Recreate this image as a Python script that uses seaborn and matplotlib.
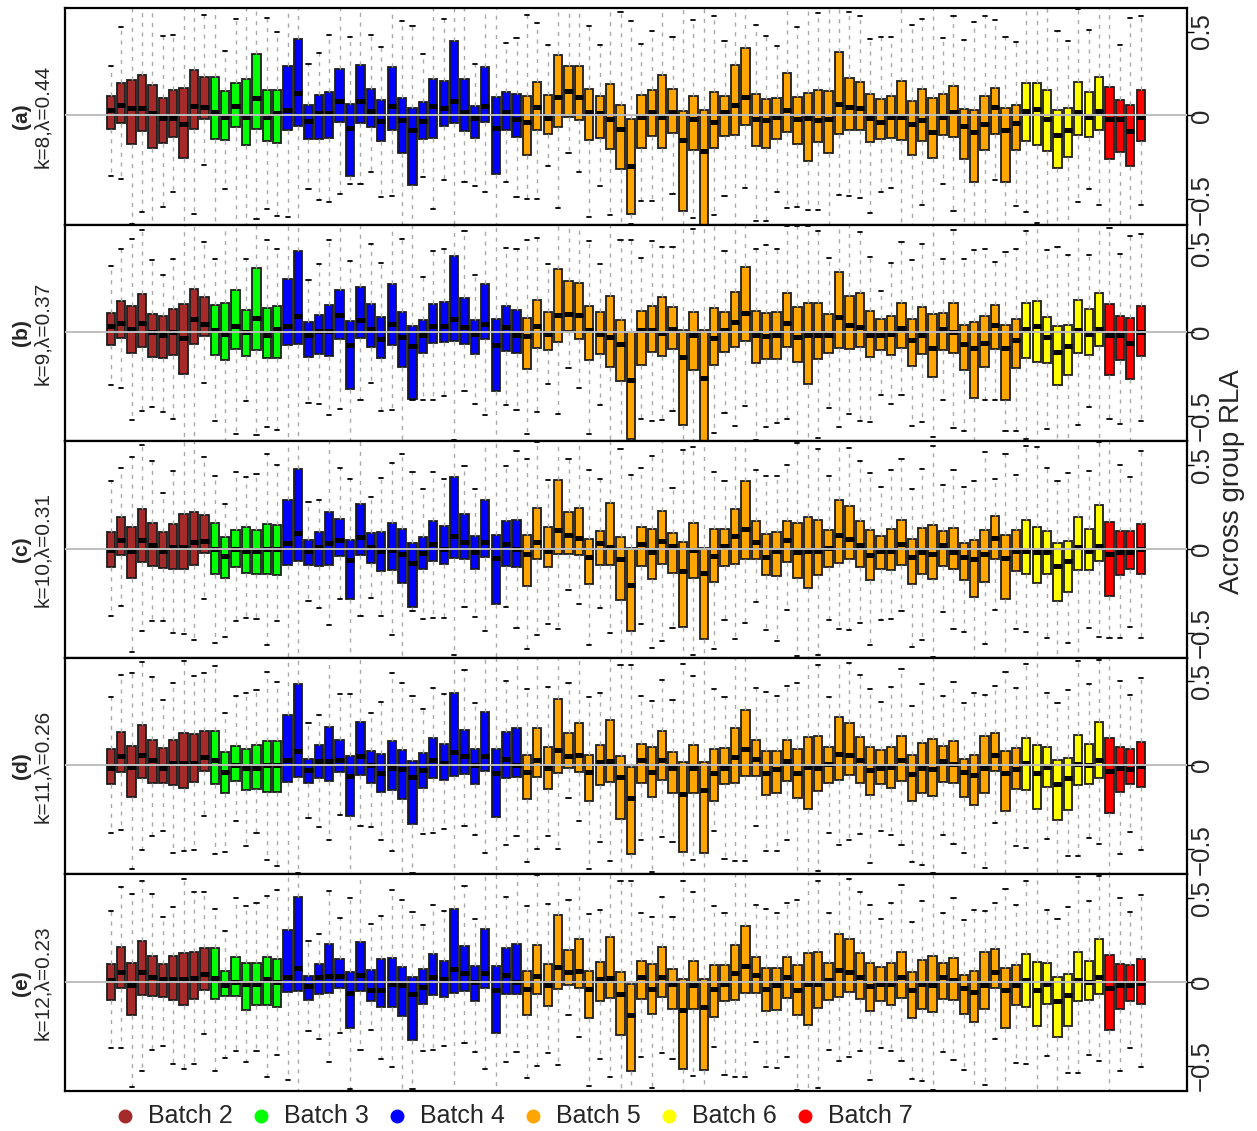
import matplotlib
matplotlib.use("Agg")
import matplotlib.pyplot as plt
import numpy as np
import pandas as pd
import seaborn as sns
from matplotlib.lines import Line2D

sns.set_theme(style="white")
plt.rcParams["font.family"] = ["Liberation Sans", "DejaVu Sans"]

# ---------------- data ----------------
BATCHES = ["Batch 2", "Batch 3", "Batch 4", "Batch 5", "Batch 6", "Batch 7"]
BATCH_SIZES = [10, 7, 23, 48, 8, 4]
BATCH_COLORS = ["#A52A2A", "#00FF00", "#0000FF", "#FFA500", "#FFFF00", "#FF0000"]
PANEL_TAGS = ["(a)", "(b)", "(c)", "(d)", "(e)"]
PANEL_PARAMS = ["k=8,\u03bb=0.44", "k=9,\u03bb=0.37", "k=10,\u03bb=0.31",
                "k=11,\u03bb=0.26", "k=12,\u03bb=0.23"]
YTICKS = [-0.5, 0.0, 0.5]
YTICK_LABELS = ["\u22120.5", "0", "0.5"]
Y_LABEL = "Across group RLA"

# panel (a)
A_Q1 = [-0.078, -0.042, -0.167, -0.092, -0.191, -0.165, -0.131, -0.253, -0.078, -0.024,
        -0.143, -0.147, -0.068, -0.177, -0.082, -0.151, -0.163, -0.084, -0.064, -0.141,
        -0.139, -0.137, -0.038, -0.363, -0.046, -0.068, -0.151, -0.084, -0.223, -0.416,
        -0.141, -0.137, -0.062, -0.042, -0.090, -0.133, -0.040, -0.351, -0.088, -0.129,
        -0.233, -0.088, -0.110, -0.068, -0.008, -0.026, -0.149, -0.135, -0.199, -0.319,
        -0.584, -0.195, -0.122, -0.195, -0.104, -0.568, -0.203, -0.680, -0.195, -0.122,
        -0.114, -0.054, -0.181, -0.193, -0.141, -0.100, -0.167, -0.269, -0.159, -0.223,
        -0.110, -0.086, -0.088, -0.159, -0.143, -0.137, -0.149, -0.233, -0.151, -0.255,
        -0.116, -0.127, -0.261, -0.398, -0.203, -0.108, -0.398, -0.207, -0.151, -0.175,
        -0.211, -0.313, -0.247, -0.116, -0.127, -0.086, -0.261, -0.215, -0.301, -0.153]
A_MED = [0.034, 0.062, 0.044, 0.046, 0.014, -0.014, -0.014, -0.050, 0.058, 0.050,
         0.022, -0.012, 0.054, -0.012, 0.104, -0.012, 0.014, 0.034, 0.135, -0.034,
         0.012, 0.012, 0.084, -0.072, 0.084, 0.024, -0.032, 0.054, -0.026, -0.086,
         -0.032, 0.054, 0.046, 0.084, 0.022, -0.016, 0.054, -0.074, 0.022, -0.020,
         -0.036, 0.050, -0.014, 0.110, 0.145, 0.108, 0.018, 0.014, -0.022, -0.082,
         -0.299, -0.012, 0.018, -0.012, 0.022, -0.145, -0.022, -0.209, -0.038, 0.018,
         0.062, 0.112, -0.022, -0.030, -0.012, 0.034, -0.022, -0.014, -0.026, -0.022,
         0.068, 0.050, 0.042, -0.018, -0.038, -0.012, -0.012, -0.050, -0.026, -0.100,
         -0.012, 0.018, -0.062, -0.100, -0.048, 0.052, -0.088, -0.046, 0.026, 0.038,
         -0.020, -0.116, -0.086, 0.022, -0.012, 0.024, -0.020, -0.020, -0.092, -0.012]
A_Q3 = [0.116, 0.195, 0.209, 0.239, 0.181, 0.106, 0.151, 0.165, 0.273, 0.227,
        0.229, 0.145, 0.193, 0.219, 0.365, 0.149, 0.149, 0.295, 0.454, 0.060,
        0.124, 0.139, 0.275, 0.070, 0.303, 0.155, 0.090, 0.291, 0.106, 0.042,
        0.080, 0.215, 0.205, 0.446, 0.215, 0.058, 0.291, 0.108, 0.137, 0.129,
        0.116, 0.197, 0.120, 0.361, 0.297, 0.297, 0.159, 0.114, 0.189, 0.064,
        -0.022, 0.122, 0.149, 0.239, 0.157, 0.026, 0.116, 0.034, 0.139, 0.118,
        0.301, 0.402, 0.127, 0.096, 0.104, 0.253, 0.108, 0.135, 0.151, 0.145,
        0.378, 0.221, 0.199, 0.127, 0.100, 0.114, 0.203, 0.086, 0.159, 0.104,
        0.129, 0.177, 0.036, 0.032, 0.114, 0.161, 0.042, 0.064, 0.195, 0.191,
        0.151, 0.034, 0.044, 0.201, 0.141, 0.231, 0.167, 0.094, 0.060, 0.153]
A_LO = [-0.361, -0.380, -0.645, -0.572, -0.70, -0.544, -0.454, -0.72, -0.588, -0.293,
        -0.70, -0.438, -0.70, -0.70, -0.616, -0.558, -0.598, -0.606, -0.70, -0.436,
        -0.506, -0.518, -0.470, -0.406, -0.41, -0.339, -0.484, -0.480, -0.70, -0.68,
        -0.365, -0.556, -0.382, -0.72, -0.398, -0.420, -0.456, -0.72, -0.394, -0.488,
        -0.498, -0.498, -0.301, -0.552, -0.223, -0.337, -0.606, -0.420, -0.590, -0.72,
        -0.645, -0.508, -0.508, -0.70, -0.468, -0.72, -0.610, -0.80, -0.594, -0.480,
        -0.70, -0.434, -0.629, -0.629, -0.458, -0.552, -0.546, -0.566, -0.566, -0.70,
        -0.476, -0.480, -0.49, -0.578, -0.456, -0.430, -0.70, -0.70, -0.534, -0.70,
        -0.406, -0.568, -0.70, -0.70, -0.70, -0.384, -0.70, -0.540, -0.576, -0.643,
        -0.70, -0.70, -0.657, -0.518, -0.440, -0.534, -0.70, -0.70, -0.70, -0.532]
A_HI = [0.297, 0.526, 0.70, 0.72, 0.70, 0.474, 0.478, 0.70, 0.70, 0.596,
        0.70, 0.384, 0.574, 0.70, 0.70, 0.580, 0.496, 0.70, 0.75, 0.307,
        0.373, 0.480, 0.70, 0.466, 0.72, 0.480, 0.408, 0.70, 0.564, 0.534,
        0.367, 0.70, 0.574, 0.72, 0.70, 0.307, 0.70, 0.72, 0.432, 0.462,
        0.596, 0.552, 0.418, 0.72, 0.70, 0.70, 0.530, 0.418, 0.70, 0.614,
        0.564, 0.426, 0.502, 0.70, 0.466, 0.72, 0.568, 0.72, 0.590, 0.442,
        0.70, 0.72, 0.538, 0.472, 0.412, 0.70, 0.528, 0.70, 0.610, 0.70,
        0.72, 0.616, 0.590, 0.454, 0.470, 0.470, 0.70, 0.536, 0.574, 0.70,
        0.464, 0.594, 0.452, 0.556, 0.590, 0.566, 0.466, 0.436, 0.70, 0.70,
        0.70, 0.504, 0.444, 0.637, 0.508, 0.70, 0.70, 0.420, 0.582, 0.594]

# panel (b)
B_Q1 = [-0.076, -0.038, -0.122, -0.086, -0.147, -0.153, -0.135, -0.251, -0.070, -0.022,
        -0.135, -0.167, -0.098, -0.143, -0.108, -0.155, -0.155, -0.080, -0.072, -0.147,
        -0.131, -0.143, -0.044, -0.341, -0.036, -0.090, -0.153, -0.078, -0.211, -0.398,
        -0.127, -0.066, -0.062, -0.056, -0.072, -0.133, -0.040, -0.353, -0.112, -0.122,
        -0.221, -0.092, -0.104, -0.060, 0.004, -0.040, -0.165, -0.129, -0.209, -0.293,
        -0.639, -0.197, -0.120, -0.143, -0.100, -0.554, -0.223, -0.660, -0.195, -0.120,
        -0.090, -0.052, -0.185, -0.161, -0.159, -0.086, -0.181, -0.307, -0.159, -0.124,
        -0.092, -0.098, -0.086, -0.149, -0.106, -0.135, -0.094, -0.201, -0.129, -0.267,
        -0.104, -0.127, -0.225, -0.390, -0.211, -0.100, -0.402, -0.213, -0.153, -0.177,
        -0.183, -0.313, -0.253, -0.124, -0.135, -0.084, -0.255, -0.167, -0.279, -0.141]
B_MED = [0.038, 0.054, 0.020, 0.054, -0.002, -0.018, -0.002, -0.038, 0.076, 0.048,
         0.014, -0.014, 0.034, 0.002, 0.086, -0.016, 0.020, 0.038, 0.094, -0.020,
         0.004, 0.004, 0.104, -0.078, 0.070, 0.020, -0.040, 0.050, -0.030, -0.084,
         -0.020, 0.038, 0.038, 0.078, 0.030, -0.014, 0.048, -0.080, 0.030, -0.018,
         -0.022, 0.038, -0.014, 0.104, 0.108, 0.104, 0.010, -0.010, -0.032, -0.072,
         -0.283, 0.010, 0.010, -0.006, 0.018, -0.147, -0.018, -0.275, -0.036, 0.014,
         0.058, 0.114, -0.016, -0.022, -0.016, 0.054, -0.030, -0.016, -0.016, -0.016,
         0.090, 0.044, 0.030, -0.018, -0.016, -0.010, 0.024, -0.046, -0.016, -0.096,
         0.018, -0.002, -0.072, -0.092, -0.064, 0.044, -0.096, -0.048, 0.018, 0.038,
         -0.032, -0.116, -0.084, 0.014, -0.010, 0.018, -0.020, -0.020, -0.066, 0.000]
B_Q3 = [0.116, 0.187, 0.153, 0.229, 0.106, 0.098, 0.135, 0.169, 0.259, 0.207,
        0.163, 0.175, 0.249, 0.133, 0.380, 0.143, 0.157, 0.317, 0.482, 0.058,
        0.100, 0.163, 0.253, 0.068, 0.271, 0.167, 0.092, 0.289, 0.118, 0.038,
        0.070, 0.167, 0.177, 0.454, 0.203, 0.070, 0.289, 0.078, 0.155, 0.129,
        0.086, 0.193, 0.120, 0.373, 0.307, 0.293, 0.155, 0.120, 0.217, 0.070,
        0.000, 0.127, 0.153, 0.209, 0.151, 0.012, 0.120, 0.012, 0.145, 0.122,
        0.239, 0.390, 0.127, 0.112, 0.120, 0.231, 0.151, 0.175, 0.173, 0.108,
        0.359, 0.213, 0.235, 0.127, 0.080, 0.098, 0.171, 0.076, 0.151, 0.108,
        0.114, 0.173, 0.040, 0.058, 0.094, 0.163, 0.040, 0.078, 0.175, 0.183,
        0.090, 0.038, 0.042, 0.191, 0.139, 0.231, 0.165, 0.096, 0.086, 0.157]
B_LO = [-0.313, -0.335, -0.522, -0.468, -0.446, -0.474, -0.518, -0.72, -0.67, -0.301,
        -0.530, -0.70, -0.610, -0.410, -0.616, -0.568, -0.584, -0.72, -0.72, -0.420,
        -0.426, -0.494, -0.458, -0.72, -0.404, -0.303, -0.470, -0.462, -0.72, -0.404,
        -0.402, -0.402, -0.378, -0.643, -0.353, -0.428, -0.496, -0.68, -0.436, -0.464,
        -0.610, -0.478, -0.307, -0.488, -0.213, -0.331, -0.606, -0.434, -0.72, -0.72,
        -0.75, -0.518, -0.528, -0.526, -0.470, -0.72, -0.72, -0.80, -0.604, -0.482,
        -0.562, -0.438, -0.643, -0.568, -0.542, -0.520, -0.72, -0.72, -0.633, -0.452,
        -0.564, -0.488, -0.530, -0.536, -0.376, -0.426, -0.373, -0.560, -0.538, -0.627,
        -0.404, -0.572, -0.588, -0.72, -0.404, -0.404, -0.588, -0.588, -0.635, -0.70,
        -0.578, -0.72, -0.72, -0.552, -0.444, -0.72, -0.518, -0.548, -0.72, -0.528]
B_HI = [0.394, 0.492, 0.554, 0.606, 0.430, 0.337, 0.434, 0.72, 0.72, 0.538,
        0.438, 0.637, 0.70, 0.438, 0.72, 0.550, 0.494, 0.72, 0.75, 0.311,
        0.406, 0.548, 0.72, 0.424, 0.72, 0.524, 0.412, 0.72, 0.554, 0.635,
        0.327, 0.482, 0.492, 0.72, 0.604, 0.339, 0.72, 0.72, 0.502, 0.496,
        0.548, 0.562, 0.406, 0.72, 0.72, 0.72, 0.542, 0.406, 0.72, 0.546,
        0.55, 0.440, 0.542, 0.504, 0.504, 0.70, 0.616, 0.72, 0.70, 0.482,
        0.70, 0.72, 0.494, 0.518, 0.496, 0.629, 0.629, 0.633, 0.602, 0.440,
        0.72, 0.649, 0.596, 0.446, 0.247, 0.410, 0.534, 0.430, 0.526, 0.65,
        0.436, 0.608, 0.434, 0.488, 0.494, 0.418, 0.476, 0.494, 0.602, 0.70,
        0.490, 0.506, 0.456, 0.72, 0.456, 0.72, 0.618, 0.462, 0.572, 0.584]

# panel (c)
C_Q1 = [-0.112, -0.040, -0.173, -0.082, -0.106, -0.116, -0.120, -0.122, -0.098, -0.024,
        -0.149, -0.177, -0.112, -0.143, -0.149, -0.149, -0.155, -0.096, -0.072, -0.100,
        -0.104, -0.096, -0.046, -0.301, -0.036, -0.088, -0.133, -0.129, -0.205, -0.345,
        -0.120, -0.074, -0.090, -0.056, -0.064, -0.120, -0.048, -0.327, -0.104, -0.112,
        -0.221, -0.062, -0.108, -0.034, -0.032, -0.038, -0.213, -0.100, -0.098, -0.303,
        -0.490, -0.102, -0.179, -0.094, -0.145, -0.468, -0.177, -0.540, -0.197, -0.106,
        -0.092, -0.060, -0.060, -0.159, -0.165, -0.082, -0.175, -0.237, -0.155, -0.108,
        -0.084, -0.060, -0.108, -0.185, -0.124, -0.127, -0.098, -0.211, -0.153, -0.183,
        -0.106, -0.124, -0.187, -0.289, -0.199, -0.060, -0.297, -0.133, -0.153, -0.207,
        -0.149, -0.309, -0.261, -0.127, -0.127, -0.076, -0.279, -0.157, -0.124, -0.149]
C_MED = [-0.008, 0.052, -0.012, 0.052, 0.024, -0.012, 0.012, 0.012, 0.040, 0.048,
         0.000, -0.044, 0.000, -0.014, -0.014, 0.000, 0.000, 0.032, 0.092, -0.014,
         0.012, 0.032, 0.052, -0.068, 0.072, 0.012, -0.014, -0.008, -0.032, -0.084,
         -0.024, 0.028, 0.000, 0.076, 0.038, -0.018, 0.042, -0.058, 0.030, 0.000,
         -0.032, 0.038, -0.016, 0.112, 0.082, 0.066, -0.050, 0.034, 0.012, -0.064,
         -0.215, 0.028, -0.018, 0.044, 0.016, -0.135, -0.008, -0.145, -0.046, 0.016,
         0.074, 0.116, 0.038, -0.048, -0.012, 0.052, -0.018, -0.012, -0.012, 0.002,
         0.084, 0.056, 0.022, -0.038, -0.014, -0.014, 0.026, -0.048, -0.018, -0.032,
         0.022, -0.018, -0.052, -0.062, -0.030, 0.064, -0.056, -0.014, -0.012, -0.018,
         -0.018, -0.102, -0.074, 0.012, -0.014, 0.018, -0.032, -0.018, -0.018, 0.000]
C_Q3 = [0.098, 0.187, 0.127, 0.235, 0.155, 0.100, 0.147, 0.209, 0.219, 0.203,
        0.155, 0.068, 0.114, 0.127, 0.110, 0.147, 0.141, 0.291, 0.476, 0.052,
        0.102, 0.219, 0.175, 0.052, 0.265, 0.094, 0.100, 0.155, 0.118, 0.036,
        0.068, 0.165, 0.137, 0.428, 0.205, 0.074, 0.291, 0.082, 0.163, 0.171,
        0.080, 0.245, 0.127, 0.406, 0.217, 0.241, 0.060, 0.108, 0.273, 0.072,
        0.002, 0.131, 0.116, 0.227, 0.092, 0.040, 0.151, 0.004, 0.118, 0.120,
        0.239, 0.402, 0.165, 0.090, 0.100, 0.167, 0.151, 0.191, 0.173, 0.114,
        0.287, 0.253, 0.167, 0.110, 0.076, 0.116, 0.169, 0.056, 0.122, 0.143,
        0.106, 0.124, 0.036, 0.050, 0.114, 0.197, 0.080, 0.110, 0.171, 0.129,
        0.108, 0.036, 0.044, 0.191, 0.118, 0.259, 0.161, 0.106, 0.104, 0.145]
C_LO = [-0.404, -0.339, -0.618, -0.490, -0.432, -0.432, -0.502, -0.506, -0.544, -0.299,
        -0.560, -0.526, -0.430, -0.410, -0.416, -0.576, -0.432, -0.72, -0.72, -0.311,
        -0.353, -0.452, -0.301, -0.72, -0.402, -0.293, -0.402, -0.512, -0.72, -0.369,
        -0.420, -0.414, -0.414, -0.635, -0.345, -0.406, -0.492, -0.72, -0.347, -0.470,
        -0.600, -0.516, -0.448, -0.476, -0.247, -0.327, -0.572, -0.355, -0.502, -0.72,
        -0.70, -0.446, -0.592, -0.552, -0.470, -0.72, -0.635, -0.75, -0.598, -0.426,
        -0.536, -0.444, -0.317, -0.484, -0.550, -0.367, -0.640, -0.72, -0.631, -0.426,
        -0.480, -0.484, -0.444, -0.574, -0.424, -0.416, -0.369, -0.586, -0.542, -0.645,
        -0.378, -0.478, -0.496, -0.70, -0.570, -0.367, -0.72, -0.476, -0.494, -0.70,
        -0.534, -0.72, -0.562, -0.70, -0.470, -0.524, -0.530, -0.530, -0.464, -0.532]
C_HI = [0.402, 0.482, 0.544, 0.616, 0.522, 0.333, 0.460, 0.70, 0.639, 0.546,
        0.434, 0.267, 0.456, 0.428, 0.442, 0.562, 0.496, 0.72, 0.75, 0.275,
        0.287, 0.70, 0.478, 0.416, 0.70, 0.309, 0.418, 0.508, 0.564, 0.454,
        0.353, 0.456, 0.416, 0.72, 0.492, 0.357, 0.72, 0.65, 0.492, 0.580,
        0.534, 0.635, 0.408, 0.72, 0.534, 0.70, 0.466, 0.414, 0.72, 0.594,
        0.440, 0.478, 0.552, 0.639, 0.363, 0.590, 0.604, 0.72, 0.456, 0.402,
        0.70, 0.72, 0.468, 0.434, 0.430, 0.496, 0.631, 0.70, 0.594, 0.434,
        0.70, 0.602, 0.520, 0.450, 0.365, 0.468, 0.534, 0.353, 0.472, 0.610,
        0.378, 0.470, 0.369, 0.402, 0.574, 0.416, 0.562, 0.438, 0.610, 0.606,
        0.482, 0.400, 0.448, 0.70, 0.464, 0.635, 0.70, 0.498, 0.426, 0.580]

# panel (d)
D_Q1 = [-0.112, -0.040, -0.187, -0.078, -0.104, -0.106, -0.120, -0.133, -0.100, -0.032,
        -0.114, -0.165, -0.094, -0.147, -0.139, -0.157, -0.157, -0.102, -0.072, -0.108,
        -0.076, -0.092, -0.040, -0.301, -0.058, -0.104, -0.161, -0.147, -0.203, -0.347,
        -0.133, -0.076, -0.090, -0.064, -0.054, -0.114, -0.036, -0.307, -0.074, -0.070,
        -0.199, -0.070, -0.141, -0.044, -0.018, -0.038, -0.213, -0.116, -0.098, -0.319,
        -0.530, -0.104, -0.189, -0.088, -0.163, -0.518, -0.163, -0.524, -0.211, -0.114,
        -0.106, -0.066, -0.066, -0.175, -0.165, -0.096, -0.197, -0.259, -0.153, -0.108,
        -0.088, -0.058, -0.104, -0.175, -0.114, -0.137, -0.096, -0.213, -0.163, -0.181,
        -0.102, -0.108, -0.189, -0.237, -0.163, -0.034, -0.275, -0.139, -0.147, -0.263,
        -0.129, -0.327, -0.265, -0.116, -0.110, -0.074, -0.285, -0.159, -0.114, -0.129]
D_MED = [-0.014, 0.054, -0.010, 0.064, 0.030, -0.014, 0.014, 0.014, 0.014, 0.048,
         0.030, -0.042, 0.000, -0.016, -0.014, 0.000, 0.000, 0.030, 0.086, -0.026,
         0.026, 0.026, 0.030, -0.064, 0.054, 0.000, -0.046, -0.014, -0.020, -0.072,
         -0.028, 0.030, 0.016, 0.078, 0.054, 0.000, 0.054, -0.046, 0.038, 0.000,
         -0.040, 0.034, -0.018, 0.090, 0.056, 0.064, -0.042, 0.018, 0.024, -0.072,
         -0.197, 0.030, -0.040, 0.030, -0.014, -0.169, -0.018, -0.147, -0.044, -0.014,
         0.050, 0.096, 0.040, -0.044, -0.020, 0.026, -0.048, -0.010, -0.014, 0.010,
         0.070, 0.060, 0.030, -0.026, -0.014, -0.010, 0.030, -0.050, -0.014, -0.020,
         0.026, 0.010, -0.038, -0.058, -0.016, 0.060, -0.046, -0.020, 0.014, -0.046,
         -0.010, -0.114, -0.078, 0.010, 0.000, 0.030, -0.034, -0.016, -0.020, -0.004]
D_Q3 = [0.096, 0.201, 0.114, 0.237, 0.151, 0.102, 0.149, 0.193, 0.185, 0.203,
        0.207, 0.076, 0.116, 0.098, 0.120, 0.147, 0.147, 0.299, 0.482, 0.040,
        0.120, 0.227, 0.151, 0.058, 0.257, 0.084, 0.070, 0.145, 0.088, 0.028,
        0.074, 0.163, 0.127, 0.432, 0.211, 0.094, 0.315, 0.094, 0.199, 0.223,
        0.062, 0.219, 0.106, 0.396, 0.191, 0.253, 0.064, 0.120, 0.269, 0.058,
        -0.010, 0.127, 0.108, 0.207, 0.076, 0.020, 0.122, 0.020, 0.098, 0.102,
        0.221, 0.331, 0.149, 0.084, 0.082, 0.149, 0.098, 0.171, 0.175, 0.110,
        0.287, 0.253, 0.171, 0.110, 0.088, 0.110, 0.175, 0.060, 0.131, 0.155,
        0.112, 0.145, 0.040, 0.064, 0.176, 0.193, 0.082, 0.102, 0.165, 0.120,
        0.110, 0.030, 0.044, 0.179, 0.127, 0.257, 0.161, 0.108, 0.098, 0.137]
D_LO = [-0.402, -0.388, -0.620, -0.506, -0.424, -0.394, -0.520, -0.508, -0.502, -0.301,
        -0.526, -0.518, -0.331, -0.478, -0.402, -0.562, -0.598, -0.72, -0.641, -0.315,
        -0.365, -0.446, -0.299, -0.72, -0.361, -0.365, -0.444, -0.508, -0.72, -0.639,
        -0.410, -0.406, -0.382, -0.72, -0.363, -0.416, -0.520, -0.72, -0.476, -0.420,
        -0.574, -0.500, -0.424, -0.496, -0.197, -0.329, -0.620, -0.460, -0.568, -0.72,
        -0.72, -0.446, -0.633, -0.426, -0.460, -0.72, -0.562, -0.75, -0.390, -0.556,
        -0.568, -0.568, -0.361, -0.508, -0.512, -0.448, -0.645, -0.72, -0.631, -0.404,
        -0.472, -0.448, -0.412, -0.582, -0.394, -0.414, -0.472, -0.578, -0.592, -0.643,
        -0.416, -0.466, -0.522, -0.65, -0.612, -0.343, -0.70, -0.482, -0.492, -0.70,
        -0.440, -0.72, -0.540, -0.540, -0.436, -0.470, -0.70, -0.528, -0.396, -0.506]
D_HI = [0.404, 0.540, 0.548, 0.616, 0.526, 0.388, 0.490, 0.620, 0.530, 0.550,
        0.590, 0.311, 0.410, 0.430, 0.448, 0.556, 0.496, 0.72, 0.75, 0.251,
        0.301, 0.70, 0.424, 0.426, 0.70, 0.311, 0.378, 0.548, 0.488, 0.414,
        0.337, 0.460, 0.422, 0.72, 0.568, 0.373, 0.72, 0.649, 0.504, 0.70,
        0.452, 0.639, 0.464, 0.72, 0.490, 0.70, 0.406, 0.430, 0.72, 0.598,
        0.60, 0.412, 0.384, 0.506, 0.386, 0.602, 0.534, 0.72, 0.452, 0.408,
        0.70, 0.72, 0.458, 0.434, 0.410, 0.472, 0.490, 0.70, 0.600, 0.408,
        0.70, 0.612, 0.538, 0.456, 0.375, 0.468, 0.574, 0.355, 0.484, 0.70,
        0.412, 0.498, 0.369, 0.428, 0.42, 0.472, 0.556, 0.458, 0.602, 0.70,
        0.428, 0.373, 0.448, 0.622, 0.484, 0.629, 0.70, 0.502, 0.418, 0.518]

# panel (e)
E_Q1 = [-0.108, -0.034, -0.199, -0.080, -0.086, -0.090, -0.110, -0.137, -0.100, -0.050,
        -0.104, -0.082, -0.082, -0.165, -0.139, -0.135, -0.151, -0.060, -0.056, -0.108,
        -0.074, -0.066, -0.038, -0.275, -0.056, -0.114, -0.147, -0.147, -0.203, -0.347,
        -0.133, -0.076, -0.090, -0.064, -0.054, -0.114, -0.036, -0.307, -0.074, -0.070,
        -0.199, -0.070, -0.141, -0.044, -0.018, -0.038, -0.213, -0.116, -0.098, -0.319,
        -0.530, -0.104, -0.189, -0.088, -0.163, -0.518, -0.163, -0.524, -0.211, -0.114,
        -0.106, -0.066, -0.066, -0.175, -0.165, -0.096, -0.197, -0.259, -0.153, -0.108,
        -0.088, -0.058, -0.104, -0.175, -0.114, -0.137, -0.096, -0.213, -0.163, -0.181,
        -0.102, -0.108, -0.189, -0.237, -0.163, -0.034, -0.275, -0.139, -0.147, -0.263,
        -0.129, -0.327, -0.265, -0.116, -0.110, -0.074, -0.285, -0.159, -0.114, -0.129]
E_MED = [0.012, 0.058, -0.018, 0.056, 0.026, 0.018, 0.018, 0.018, 0.022, 0.046,
         0.022, -0.020, 0.002, -0.014, -0.014, 0.018, 0.002, 0.028, 0.080, -0.022,
         0.028, 0.034, 0.034, -0.066, 0.042, -0.046, -0.046, -0.014, -0.020, -0.072,
         -0.028, 0.030, 0.016, 0.078, 0.054, 0.000, 0.054, -0.046, 0.038, 0.000,
         -0.040, 0.034, -0.018, 0.090, 0.056, 0.064, -0.042, 0.018, 0.024, -0.072,
         -0.197, 0.030, -0.040, 0.030, -0.014, -0.169, -0.018, -0.147, -0.044, -0.014,
         0.050, 0.096, 0.040, -0.044, -0.020, 0.026, -0.048, -0.010, -0.014, 0.010,
         0.070, 0.060, 0.030, -0.026, -0.014, -0.010, 0.030, -0.050, -0.014, -0.020,
         0.026, 0.010, -0.038, -0.058, -0.016, 0.060, -0.046, -0.020, 0.014, -0.046,
         -0.010, -0.114, -0.078, 0.010, 0.000, 0.030, -0.034, -0.016, -0.020, -0.004]
E_Q3 = [0.104, 0.207, 0.110, 0.243, 0.155, 0.104, 0.153, 0.169, 0.177, 0.201,
        0.201, 0.066, 0.151, 0.114, 0.112, 0.151, 0.135, 0.311, 0.506, 0.032,
        0.108, 0.225, 0.137, 0.056, 0.239, 0.070, 0.137, 0.145, 0.088, 0.028,
        0.074, 0.163, 0.127, 0.432, 0.211, 0.094, 0.315, 0.094, 0.199, 0.223,
        0.062, 0.219, 0.106, 0.396, 0.191, 0.253, 0.064, 0.120, 0.269, 0.058,
        -0.010, 0.127, 0.108, 0.207, 0.076, 0.020, 0.122, 0.020, 0.098, 0.102,
        0.221, 0.331, 0.149, 0.084, 0.082, 0.149, 0.098, 0.171, 0.175, 0.110,
        0.287, 0.253, 0.171, 0.110, 0.088, 0.110, 0.175, 0.060, 0.131, 0.155,
        0.112, 0.145, 0.040, 0.064, 0.176, 0.193, 0.082, 0.102, 0.165, 0.120,
        0.110, 0.030, 0.044, 0.179, 0.127, 0.257, 0.161, 0.108, 0.098, 0.137]
E_LO = [-0.392, -0.392, -0.625, -0.528, -0.408, -0.384, -0.490, -0.516, -0.492, -0.313,
        -0.530, -0.452, -0.414, -0.478, -0.414, -0.568, -0.436, -0.582, -0.72, -0.291,
        -0.341, -0.476, -0.305, -0.64, -0.408, -0.287, -0.462, -0.508, -0.72, -0.639,
        -0.410, -0.406, -0.382, -0.72, -0.363, -0.416, -0.520, -0.72, -0.476, -0.420,
        -0.574, -0.500, -0.424, -0.496, -0.197, -0.329, -0.620, -0.460, -0.568, -0.72,
        -0.72, -0.446, -0.633, -0.426, -0.460, -0.72, -0.562, -0.75, -0.390, -0.556,
        -0.568, -0.568, -0.361, -0.508, -0.512, -0.448, -0.645, -0.72, -0.631, -0.404,
        -0.472, -0.448, -0.412, -0.582, -0.394, -0.414, -0.472, -0.578, -0.592, -0.643,
        -0.416, -0.466, -0.522, -0.65, -0.612, -0.343, -0.70, -0.482, -0.492, -0.70,
        -0.440, -0.72, -0.540, -0.540, -0.436, -0.470, -0.70, -0.528, -0.396, -0.506]
E_HI = [0.424, 0.564, 0.526, 0.60, 0.522, 0.386, 0.446, 0.612, 0.538, 0.538,
        0.432, 0.301, 0.500, 0.450, 0.468, 0.512, 0.546, 0.72, 0.75, 0.241,
        0.285, 0.544, 0.378, 0.502, 0.70, 0.343, 0.390, 0.548, 0.488, 0.414,
        0.337, 0.460, 0.422, 0.72, 0.568, 0.373, 0.72, 0.649, 0.504, 0.70,
        0.452, 0.639, 0.464, 0.72, 0.490, 0.70, 0.406, 0.430, 0.72, 0.598,
        0.60, 0.412, 0.384, 0.506, 0.386, 0.602, 0.534, 0.72, 0.452, 0.408,
        0.70, 0.72, 0.458, 0.434, 0.410, 0.472, 0.490, 0.70, 0.600, 0.408,
        0.70, 0.612, 0.538, 0.456, 0.375, 0.468, 0.574, 0.355, 0.484, 0.70,
        0.412, 0.498, 0.369, 0.428, 0.42, 0.472, 0.556, 0.458, 0.602, 0.70,
        0.428, 0.373, 0.448, 0.622, 0.484, 0.629, 0.70, 0.502, 0.418, 0.518]

# ---------------- build long tables ----------------
SAMPLE_BATCH = [b for b, n in zip(BATCHES, BATCH_SIZES) for _ in range(n)]
SAMPLES = ["S%03d" % (i + 1) for i in range(len(SAMPLE_BATCH))]


def panel_frame(q1, med, q3, lo, hi):
    rows = []
    for i, s in enumerate(SAMPLES):
        five = [min(lo[i], q1[i]), q1[i], med[i], q3[i], max(hi[i], q3[i])]
        for v in five:
            rows.append((s, SAMPLE_BATCH[i], v))
    return pd.DataFrame(rows, columns=["sample", "batch", "value"])


PANELS = [panel_frame(A_Q1, A_MED, A_Q3, A_LO, A_HI),
          panel_frame(B_Q1, B_MED, B_Q3, B_LO, B_HI),
          panel_frame(C_Q1, C_MED, C_Q3, C_LO, C_HI),
          panel_frame(D_Q1, D_MED, D_Q3, D_LO, D_HI),
          panel_frame(E_Q1, E_MED, E_Q3, E_LO, E_HI)]

# ---------------- figure ----------------
W_PX, H_PX = 1257, 1131
fig = plt.figure(figsize=(W_PX / 100, H_PX / 100), dpi=100)
fig.patch.set_facecolor("white")

left, right = 65 / W_PX, 1187 / W_PX
top, bottom = 1 - 8 / H_PX, 1 - 1091 / H_PX
ph = (top - bottom) / 5
palette = dict(zip(BATCHES, BATCH_COLORS))

for p, df in enumerate(PANELS):
    ax = fig.add_axes([left, top - (p + 1) * ph, right - left, ph])
    sns.boxplot(data=df, x="sample", y="value", hue="batch", order=SAMPLES,
                hue_order=BATCHES, palette=palette, dodge=False, width=0.8,
                whis=(0, 100), showfliers=False, saturation=1, legend=False,
                linecolor="#1c1c1c", linewidth=1.3, ax=ax,
                medianprops=dict(color="black", linewidth=3.6, solid_capstyle="butt"),
                whiskerprops=dict(color="#a9a9a9", linewidth=1.0, linestyle=(0, (3, 4))),
                capprops=dict(color="black", linewidth=1.3))
    ax.axhline(0, color="#bebebe", linewidth=1.4, zorder=6)
    ax.set_xlim(-4.4, 103.45)
    ax.set_ylim(-0.65, 0.64)
    ax.set_xticks([])
    ax.set_xlabel("")
    ax.set_ylabel("")
    ax.yaxis.tick_right()
    ax.set_yticks(YTICKS)
    ax.set_yticklabels(YTICK_LABELS)
    ax.tick_params(axis="y", right=True, left=False, labelright=True, labelleft=False,
                   length=5, width=1.0, color="black", labelsize=18.5, pad=-3,
                   labelrotation=90)
    for lbl in ax.get_yticklabels():
        lbl.set_verticalalignment("center")
    for sp in ax.spines.values():
        sp.set_visible(True)
        sp.set_color("black")
        sp.set_linewidth(1.6)
    ax.set_facecolor("white")

    yc = top - (p + 0.5) * ph
    fig.text(22 / W_PX, yc, PANEL_TAGS[p], rotation=90, fontsize=15,
             fontweight="bold", ha="center", va="center")
    fig.text(43 / W_PX, yc, PANEL_PARAMS[p], rotation=90, fontsize=15,
             ha="center", va="center")

fig.text(1232 / W_PX, 1 - 482 / H_PX, Y_LABEL, rotation=90, fontsize=20,
         ha="center", va="center")

# legend row
leg_y = 1 - 1116 / H_PX
leg_x0 = 125 / W_PX
leg_step = 136 / W_PX
for i, (b, c) in enumerate(zip(BATCHES, BATCH_COLORS)):
    x = leg_x0 + i * leg_step
    fig.add_artist(Line2D([x], [leg_y], marker="o", markersize=9, color=c,
                          linestyle="none", transform=fig.transFigure))
    fig.text(x + 23 / W_PX, leg_y, b, fontsize=18, ha="left", va="center")

fig.savefig("out.png", dpi=100, facecolor="white")
